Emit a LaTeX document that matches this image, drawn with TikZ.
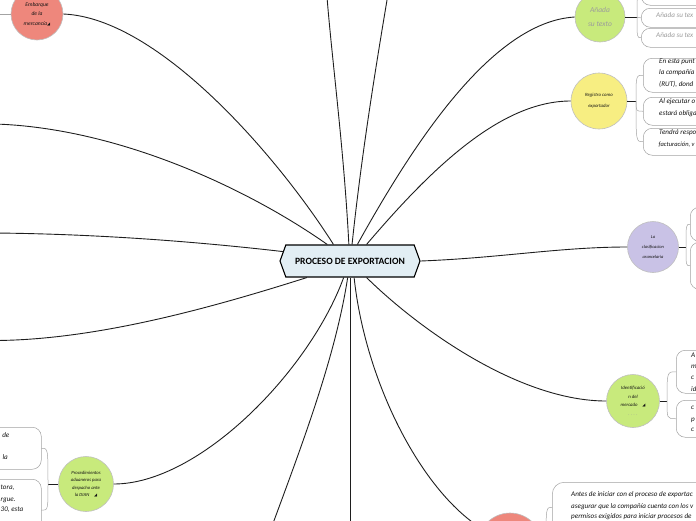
\documentclass[tikz,border=0pt]{standalone}
\usepackage{fontspec}
\setmainfont{Carlito}
\newfontfamily\symfont{DejaVu Sans}
\usetikzlibrary{shapes.symbols}
\definecolor{salmon}{HTML}{EE877C}
\definecolor{lgreen}{HTML}{C8EA7C}
\definecolor{lyellow}{HTML}{F7EE82}
\definecolor{lavender}{HTML}{C9C2E6}
\definecolor{cfill}{HTML}{E2EEF4}
\definecolor{conn}{HTML}{1E1E1E}
\definecolor{boxline}{HTML}{A3A3A3}
\definecolor{txt}{HTML}{141414}
\definecolor{ghost}{HTML}{9C9C9C}
\newcommand{\noteicon}{{\symfont\fontsize{4}{4}\selectfont ◢}}
\begin{document}
\begin{tikzpicture}[x=1pt,y=-1pt,
  conn/.style={draw=conn, line width=0.9pt},
  stub/.style={draw=conn, line width=0.9pt},
  bubble/.style={circle, draw=black!25, line width=0.6pt, inner sep=0pt, align=center, text=txt},
  leaf/.style={draw=boxline, line width=0.5pt, rounded corners=9pt, fill=white, inner sep=0pt, anchor=north west},
  bracket/.style={draw=boxline, line width=0.5pt},
  ltxt/.style={anchor=west, inner sep=0pt, text=txt, font=\fontsize{7.1}{8}\selectfont\itshape},
  rtxt/.style={ltxt, anchor=east},
  gtxt/.style={ltxt, text=ghost},
]
\useasboundingbox (0,0) rectangle (696,520);
\clip (0,0) rectangle (696,520);

% ---------- central node ----------
\node[signal, signal to=west and east, signal pointer angle=140, draw=black, line width=1.1pt,
      fill=cfill, minimum width=140pt, minimum height=32pt, inner sep=0pt,
      font=\bfseries\fontsize{9.6}{11}\selectfont] (c) at (350,261) {PROCESO DE EXPORTACION};

% ---------- topic bubbles ----------
\node[bubble, fill=salmon, minimum size=52pt, font=\itshape\fontsize{5.6}{9.5}\selectfont] (e) at (37,14) {Embarque\\de la\\mercancía\noteicon};
\node[bubble, fill=lgreen, minimum size=50pt, text=ghost, font=\itshape\fontsize{7.5}{14}\selectfont] (a) at (600,17) {Añada\\su texto};
\node[bubble, fill=lyellow, minimum size=56pt, font=\itshape\fontsize{4.8}{11}\selectfont] (g) at (599,101) {Registro como\\exportador};
\node[bubble, fill=lavender, minimum size=51pt, font=\itshape\fontsize{4.5}{10}\selectfont] (l) at (653,247) {La\\clasificacion\\arancelaria};
\node[bubble, fill=lgreen, minimum size=53pt, font=\itshape\fontsize{4.8}{8.5}\selectfont] (i) at (633,401) {Identificació\\n del\\mercado\quad\noteicon\\{\color{ghost}. . . .}};
\node[bubble, fill=lgreen, minimum size=55pt, font=\itshape\fontsize{4.7}{7.3}\selectfont] (p) at (86,484) {Procedimientos\\aduaneros para\\despacho ante\\la DIAN\quad\noteicon};
\node[bubble, fill=salmon, minimum size=64pt] (r) at (510,545) {};

% ---------- off-canvas ends ----------
\coordinate (t1) at (327,-3);
\coordinate (t2) at (387.5,-3);
\coordinate (l1) at (-5,124);
\coordinate (l2) at (-5,233);
\coordinate (l3) at (-5,340.5);
\coordinate (b1) at (265,545);
\coordinate (b2) at (350,525);
\coordinate (ew) at (-5,14);

% ---------- connectors from centre ----------
\draw[conn] (c.94) .. controls (344,150) and (332,60) .. (t1);
\draw[conn] (c.83) .. controls (362,150) and (377,60) .. (t2);
\draw[conn] (c.135) .. controls (280,160) and (160,18) .. (e.east);
\draw[conn] (c.144) .. controls (250,190) and (120,128) .. (l1);
\draw[conn] (c.172) .. controls (200,242) and (100,234) .. (l2);
\draw[conn] (c.201) .. controls (220,305) and (100,340) .. (l3);
\draw[conn] (c.249) .. controls (310,370) and (200,484) .. (p.east);
\draw[conn] (c.262) .. controls (335,360) and (300,450) .. (b1);
\draw[conn] (c.south) -- (b2);
\draw[conn] (c.284) .. controls (365,380) and (420,490) .. (r.150);
\draw[conn] (c.315) .. controls (420,330) and (520,401) .. (i.west);
\draw[conn] (c.east) .. controls (500,258) and (560,247) .. (l.west);
\draw[conn] (c.45) .. controls (430,170) and (500,101) .. (g.west);
\draw[conn] (c.66) .. controls (410,150) and (490,22) .. (a.west);

% ---------- Embarque: branch to the left ----------
\draw[bracket] (e.west) -- (ew);

% ---------- Añada su texto children ----------
\coordinate (ja) at (637,17);
\node[leaf, minimum width=120pt, minimum height=20pt] (a1) at (641,-15) {};
\node[leaf, minimum width=120pt, minimum height=19pt] (a2) at (641,8) {};
\node[leaf, minimum width=120pt, minimum height=19pt] (a3) at (641,28) {};
\draw[stub] (a.east) -- (ja);
\draw[bracket] (ja) .. controls (ja |- a1.west) .. (a1.west);
\draw[bracket] (ja) .. controls (ja |- a2.west) .. (a2.west);
\draw[bracket] (ja) .. controls (ja |- a3.west) .. (a3.west);
\node[gtxt] (a2t) at (656,15.5) {Añada su tex};
\node[gtxt] (a3t) at (656,35) {Añada su tex};

% ---------- Registro children ----------
\coordinate (jg) at (636,101);
\node[leaf, minimum width=120pt, minimum height=34pt] (g1) at (643,58) {};
\node[leaf, minimum width=120pt, minimum height=28pt] (g2) at (643,97) {};
\node[leaf, minimum width=120pt, minimum height=27pt] (g3) at (643,128) {};
\draw[stub] (g.east) -- (jg);
\draw[bracket] (jg) .. controls (jg |- g1.west) .. (g1.west);
\draw[bracket] (jg) .. controls (jg |- g2.west) .. (g2.west);
\draw[bracket] (jg) .. controls (jg |- g3.west) .. (g3.west);
\node[ltxt] (g1a) at (659,62) {En esta punt};
\node[ltxt] (g1b) at (659,73) {la compañía};
\node[ltxt] (g1c) at (659,84) {(RUT), dond};
\node[ltxt] (g2a) at (659,102) {Al ejecutar o};
\node[ltxt] (g2b) at (659,114) {estará obliga};
\node[ltxt] (g3a) at (659,133) {Tendrá respo};
\node[ltxt, font=\fontsize{6.5}{8}\selectfont\itshape] (g3b) at (658.5,145) {facturación, v};

% ---------- La clasificacion children ----------
\coordinate (jl) at (686,247);
\node[leaf, minimum width=100pt, minimum height=34pt] (lb1) at (690,207) {};
\node[leaf, minimum width=100pt, minimum height=47pt] (lb2) at (690,242) {};
\draw[stub] (l.east) -- (jl);
\draw[bracket] (jl) .. controls (jl |- lb1.west) .. (lb1.west);
\draw[bracket] (jl) .. controls (jl |- lb2.west) .. (lb2.west);

% ---------- Identificacion children ----------
\coordinate (ji) at (667,401);
\node[leaf, minimum width=100pt, minimum height=43pt] (i1) at (676,350) {};
\node[leaf, minimum width=100pt, minimum height=37pt] (i2) at (676,400) {};
\draw[stub] (i.east) -- (ji);
\draw[bracket] (ji) .. controls (ji |- i1.west) .. (i1.west);
\draw[bracket] (ji) .. controls (ji |- i2.west) .. (i2.west);
\node[ltxt] (i1a) at (691,355) {A};
\node[ltxt] (i1b) at (691,367) {m};
\node[ltxt] (i1c) at (691,378) {c};
\node[ltxt] (i1d) at (691,389) {id};
\node[ltxt] (i2a) at (691,408) {c};
\node[ltxt] (i2b) at (691,420) {p};
\node[ltxt] (i2c) at (691,430) {c};

% ---------- Procedimientos children ----------
\coordinate (jp) at (48,484);
\node[leaf, minimum width=121pt, minimum height=42pt] (p1) at (-80,427) {};
\node[leaf, minimum width=121pt, minimum height=62pt] (p2) at (-80,479) {};
\draw[stub] (p.west) -- (jp);
\draw[bracket] (jp) .. controls (jp |- p1.east) .. (p1.east);
\draw[bracket] (jp) .. controls (jp |- p2.east) .. (p2.east);
\node[rtxt] (p1a) at (9.5,435) {de};
\node[rtxt] (p1b) at (8,457) {la};
\node[ltxt] (p2a) at (0.5,488) {tora,};
\node[ltxt] (p2b) at (0.5,500) {rgue.};
\node[ltxt] (p2c) at (0.5,510) {30, esta};

% ---------- bottom red children ----------
\coordinate (jr) at (546,545);
\node[leaf, rounded corners=12pt, minimum width=200pt, minimum height=50pt] (rr1) at (552,482) {};
\draw[stub] (r.east) -- (jr);
\draw[bracket] (jr) .. controls (jr |- rr1.west) .. (rr1.west);
\node[ltxt] (rr1a) at (571,495) {Antes de iniciar con el proceso de exportac};
\node[ltxt] (rr1b) at (571,507) {asegurar que la compañía cuenta con los v};
\node[ltxt] (rr1c) at (571,517) {permisos exigidos para iniciar procesos de};
\end{tikzpicture}
\end{document}
